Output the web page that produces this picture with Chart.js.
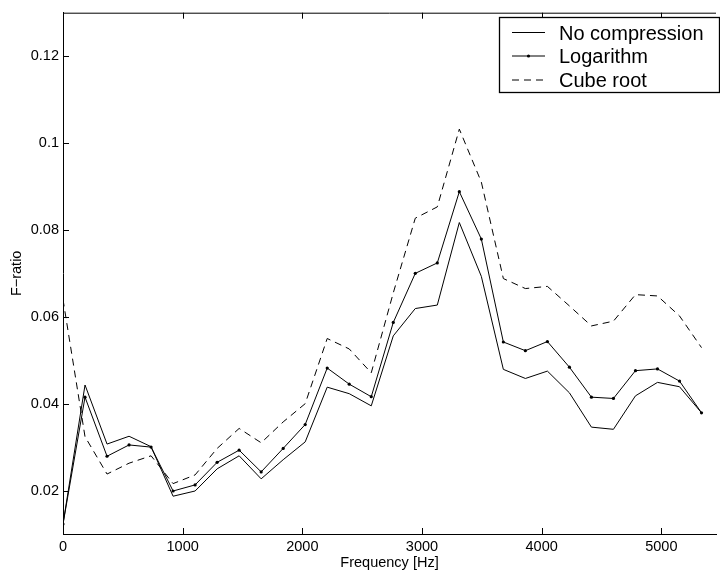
<!DOCTYPE html>
<html>
<head>
<meta charset="utf-8">
<script src="https://cdn.jsdelivr.net/npm/chart.js@4"></script>
<style>
  html, body { margin: 0; padding: 0; background: #fff; overflow: hidden; }
  #wrap { width: 720px; height: 573px; }
</style>
</head>
<body>
<div id="wrap"><canvas id="fratio" width="720" height="573"></canvas></div>
<script>
// frequency bins (Hz)
var freq = [0, 184, 368, 552, 736, 920, 1104, 1288, 1472, 1656, 1840, 2024, 2208, 2392, 2576,
            2760, 2944, 3128, 3312, 3496, 3680, 3864, 4048, 4232, 4416, 4600, 4784, 4968, 5152, 5336];

var noCompression = [0.0123, 0.0443, 0.0307, 0.0325, 0.0301, 0.0187, 0.0199, 0.0250, 0.0280, 0.0227,
                     0.0271, 0.0312, 0.0438, 0.0423, 0.0395, 0.0556, 0.0619, 0.0627, 0.0817, 0.0693,
                     0.0479, 0.0458, 0.0475, 0.0425, 0.0346, 0.0341, 0.0418, 0.0449, 0.0439, 0.0379];
var logarithm = [0.0123, 0.0415, 0.0279, 0.0305, 0.0300, 0.0199, 0.0213, 0.0265, 0.0293, 0.0243,
                 0.0297, 0.0352, 0.0482, 0.0445, 0.0416, 0.0587, 0.0700, 0.0724, 0.0888, 0.0779,
                 0.0542, 0.0522, 0.0543, 0.0484, 0.0415, 0.0412, 0.0476, 0.0480, 0.0452, 0.0379];
var cubeRoot = [0.0640, 0.0324, 0.0238, 0.0263, 0.0280, 0.0216, 0.0236, 0.0297, 0.0343, 0.0310,
                0.0358, 0.0400, 0.0550, 0.0526, 0.0471, 0.0655, 0.0827, 0.0853, 0.1032, 0.0910,
                0.0688, 0.0665, 0.0670, 0.0625, 0.0579, 0.0590, 0.0651, 0.0648, 0.0602, 0.0529];

var xTicks = [0, 1000, 2000, 3000, 4000, 5000];
var yTicks = [0.02, 0.04, 0.06, 0.08, 0.1, 0.12];

function pts(ys) {
    return freq.map(function (f, i) { return {x: f, y: ys[i]}; });
}

var fontFamily = 'Arial, "Liberation Sans", Helvetica, sans-serif';

// box on top, inward ticks, and the legend box in the upper right
var framePlugin = {
    id: 'frame',
    afterDatasetsDraw: function (chart) {
        var ctx = chart.ctx, a = chart.chartArea;
        var xs = chart.scales.x, ys = chart.scales.y;
        ctx.save();
        ctx.strokeStyle = '#000';
        ctx.lineWidth = 1;
        ctx.setLineDash([]);
        ctx.beginPath();
        ctx.moveTo(a.left, a.top + 0.5);
        ctx.lineTo(a.right, a.top + 0.5);
        xs.ticks.forEach(function (t) {
            var px = Math.round(xs.getPixelForValue(t.value)) + 0.5;
            ctx.moveTo(px, a.bottom);
            ctx.lineTo(px, a.bottom - 6);
            ctx.moveTo(px, a.top);
            ctx.lineTo(px, a.top + 6);
        });
        ys.ticks.forEach(function (t) {
            var py = Math.round(ys.getPixelForValue(t.value)) + 0.5;
            ctx.moveTo(a.left, py);
            ctx.lineTo(a.left + 6, py);
        });
        ctx.stroke();

        // legend
        var bx = 499.5, by = 17.5, bw = 220, bh = 75;
        ctx.fillStyle = '#fff';
        ctx.fillRect(bx, by, bw, bh);
        ctx.lineWidth = 1.3;
        ctx.strokeRect(bx, by, bw, bh);
        ctx.font = '20px ' + fontFamily;
        ctx.fillStyle = '#000';
        ctx.textBaseline = 'alphabetic';
        var rows = [32.5, 56, 80];
        chart.data.datasets.forEach(function (ds, i) {
            var yy = rows[i];
            ctx.lineWidth = 1;
            ctx.setLineDash(ds.borderDash || []);
            ctx.beginPath();
            ctx.moveTo(512, yy);
            ctx.lineTo(545, yy);
            ctx.stroke();
            ctx.setLineDash([]);
            if (ds.pointRadius > 0) {
                ctx.beginPath();
                ctx.arc(528.5, yy, ds.pointRadius, 0, Math.PI * 2);
                ctx.fill();
            }
            ctx.fillText(ds.label, 559, yy + 7);
        });
        ctx.restore();
    }
};

var ctx = document.getElementById('fratio').getContext('2d');
var chart = new Chart(ctx, {
    type: 'line',
    data: {
        datasets: [{
            label: 'No compression',
            data: pts(noCompression),
            borderColor: '#000',
            borderWidth: 1,
            pointRadius: 0,
            tension: 0
        }, {
            label: 'Logarithm',
            data: pts(logarithm),
            borderColor: '#000',
            backgroundColor: '#000',
            borderWidth: 1,
            pointRadius: 1.6,
            pointBorderWidth: 0,
            pointBackgroundColor: '#000',
            tension: 0
        }, {
            label: 'Cube root',
            data: pts(cubeRoot),
            borderColor: '#000',
            borderWidth: 1,
            borderDash: [7, 5],
            pointRadius: 0,
            tension: 0
        }]
    },
    options: {
        responsive: false,
        animation: false,
        layout: { padding: { top: 10, right: 0, left: 0, bottom: 0 } },
        plugins: {
            legend: { display: false },
            tooltip: { enabled: false }
        },
        scales: {
            x: {
                type: 'linear',
                min: 0,
                max: 5457,
                afterBuildTicks: function (s) { s.ticks = xTicks.map(function (v) { return {value: v}; }); },
                afterFit: function (s) { s.height = 39; },
                grid: { display: false, drawTicks: false },
                border: { display: true, color: '#000', width: 1 },
                ticks: {
                    padding: 4, color: '#000', maxRotation: 0, autoSkip: false,
                    font: { family: fontFamily, size: 14.5 },
                    callback: function (v) { return String(v); }
                },
                title: {
                    display: true, text: 'Frequency [Hz]', color: '#000',
                    font: { family: fontFamily, size: 14.5 },
                    padding: { top: 0, bottom: 1 }
                }
            },
            y: {
                min: 0.01,
                max: 0.13,
                afterBuildTicks: function (s) { s.ticks = yTicks.map(function (v) { return {value: v}; }); },
                afterFit: function (s) { s.width = 63; },
                grid: { display: false, drawTicks: false },
                border: { display: true, color: '#000', width: 1 },
                ticks: {
                    padding: 4, color: '#000',
                    font: { family: fontFamily, size: 14.5 },
                    callback: function (v) { return String(+v.toFixed(2)); }
                },
                title: {
                    display: true, text: 'F\u2212ratio', color: '#000',
                    font: { family: fontFamily, size: 14.5 },
                    padding: { top: 8, bottom: 0 }
                }
            }
        }
    },
    plugins: [framePlugin]
});
</script>
</body>
</html>
